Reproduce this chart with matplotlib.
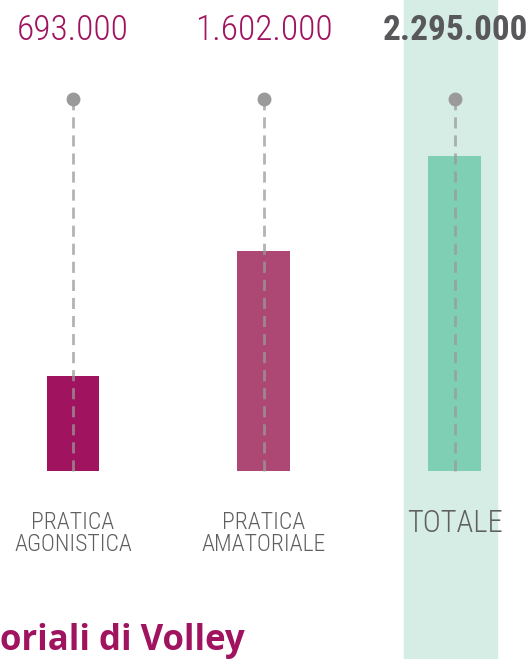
import matplotlib
matplotlib.use("Agg")
import matplotlib.pyplot as plt

categories = ["PRATICA\nAGONISTICA", "PRATICA\nAMATORIALE", "TOTALE"]
values = [693000, 1602000, 2295000]
value_labels = ["693.000", "1.602.000", "2.295.000"]
bar_colors = ["#a0135f", "#ad4874", "#7fcfb4"]
label_colors = ["#a0135f", "#a0135f", "#58585a"]
dot_level = 2710000

magenta = "#a0135f"
grey_txt = "#5f5f5f"
dash_c = "#9a9a9a"
band_c = "#d6ede6"
cond = ["Roboto Condensed", "Roboto"]

fig = plt.figure(figsize=(5.30, 6.59), dpi=100, facecolor="white")
ax = fig.add_axes([0, 0, 1, 1])
ax.set_xlim(-0.382, 2.393)
ax.set_ylim(-1.370e6, 3.432e6)
ax.axis("off")

# highlighted total column
ax.axvspan(1.733, 2.220, color=band_c, zorder=0)

x = list(range(len(values)))
ax.bar(x, values, width=0.277, color=bar_colors, zorder=2)

# dashed stems + dots
for xi in x:
    ax.plot([xi, xi], [0, dot_level], color=dash_c, lw=2, ls=(0, (4, 2.5)),
            alpha=0.75, zorder=3)
    ax.plot(xi, dot_level, "o", color=dash_c, ms=10, mec="none", zorder=4)

# value labels on top
for xi, t, c in zip(x, value_labels, label_colors):
    ax.text(xi, 3.21e6, t, ha="center", va="center", color=c,
            fontsize=25.5, family=cond,
            fontweight="bold" if xi == 2 else "light")

# category labels
for xi, cat in zip(x[:2], categories[:2]):
    ax.text(xi, -0.455e6, cat, ha="center", va="center", color=grey_txt,
            fontsize=17, family=cond, fontweight="light", linespacing=0.95)
ax.text(2, -0.38e6, categories[2], ha="center", va="center", color=grey_txt,
        fontsize=22, family=cond, fontweight="light")

fig.text(0.0, 0.028, "oriali di Volley", ha="left", va="center",
         color=magenta, fontsize=25, fontweight="bold", family="Open Sans")

fig.savefig("out.png", dpi=100, facecolor="white")
